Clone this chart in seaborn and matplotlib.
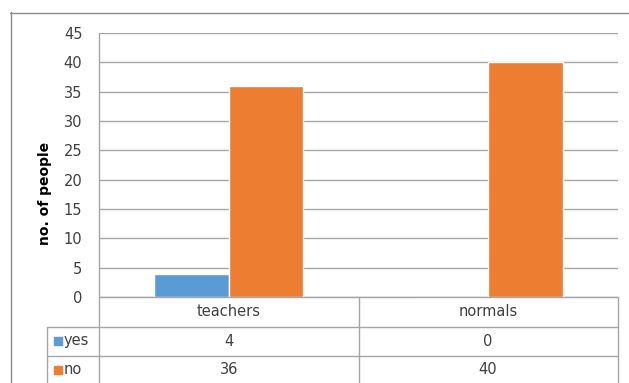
import matplotlib
matplotlib.use("Agg")
import matplotlib.pyplot as plt
from matplotlib.lines import Line2D
from matplotlib.patches import Rectangle
import seaborn as sns
import pandas as pd

# Survey counts per group
groups = ["teachers", "normals"]
answers = ["yes", "no"]
yes_counts = [4, 0]
no_counts = [36, 40]
y_ticks = [0, 5, 10, 15, 20, 25, 30, 35, 40, 45]

colors = {"yes": "#5B9BD5", "no": "#ED7D31"}

df = pd.DataFrame({
    "group": groups * 2,
    "answer": ["yes"] * len(groups) + ["no"] * len(groups),
    "count": yes_counts + no_counts,
})

sns.set_theme(style="white")
plt.rcParams["font.family"] = ["DejaVu Sans"]

W, H = 629, 383
fig = plt.figure(figsize=(W / 100, H / 100), dpi=100)


def fx(x):
    return x / W


def fy(y):
    return 1 - y / H


ax = fig.add_axes([fx(99), fy(297), (618 - 99) / W, (297 - 33) / H])
sns.barplot(data=df, x="group", y="count", hue="answer", order=groups,
            hue_order=answers, palette=colors, width=0.575, ax=ax,
            legend=False, saturation=1)

ax.set_ylim(0, 45)
ax.set_yticks(y_ticks)
ax.set_yticklabels([str(t) for t in y_ticks], fontsize=10.5, color="#404040")
ax.tick_params(axis="y", length=0, pad=12)
ax.set_xticks([])
ax.set_xlabel("")
ax.set_ylabel("")
for s in ax.spines.values():
    s.set_visible(False)
ax.yaxis.grid(True, color="#A6A6A6", linewidth=1.0)
ax.set_axisbelow(True)

grid_c = "#A6A6A6"
lw = 1.0


def hline(y, x0, x1, c=grid_c):
    fig.add_artist(Line2D([fx(x0), fx(x1)], [fy(y), fy(y)], color=c,
                          linewidth=lw, transform=fig.transFigure))


def vline(x, y0, y1, c=grid_c):
    fig.add_artist(Line2D([fx(x), fx(x)], [fy(y0), fy(y1)], color=c,
                          linewidth=lw, transform=fig.transFigure))


# outer chart frame
hline(12.5, 10, 629, "#8A8A8A")
vline(10.5, 12, 383, "#8A8A8A")

# value axis line and data table grid
vline(99, 33, 383)
hline(297, 99, 618)
hline(327, 47, 618)
hline(356, 47, 618)
vline(359, 297, 383)
vline(618, 297, 383)
vline(47, 327, 383)

# data table text
col_centers = [229, 488]
row_y = {"yes": 341, "no": 370}
txt_kw = dict(fontsize=10.5, color="#404040", ha="center", va="center",
              transform=fig.transFigure)
for g, cx in zip(groups, col_centers):
    fig.text(fx(cx), fy(312), g, **txt_kw)
for i, cx in enumerate(col_centers):
    fig.text(fx(cx), fy(row_y["yes"]), str(yes_counts[i]), **txt_kw)
    fig.text(fx(cx), fy(row_y["no"]), str(no_counts[i]), **txt_kw)

# legend keys inside the table
for a in answers:
    yc = row_y[a]
    fig.add_artist(Rectangle((fx(54), fy(yc + 4)), 8 / W, 8 / H,
                             color=colors[a], transform=fig.transFigure))
    fig.text(fx(64), fy(yc), a, fontsize=10.5, color="#404040",
             ha="left", va="center", transform=fig.transFigure)

fig.text(fx(45), fy(193), "no. of people", rotation=90, fontsize=10,
         fontweight="bold", color="#000000", ha="center", va="center",
         transform=fig.transFigure)

fig.savefig("out.png", dpi=100)
